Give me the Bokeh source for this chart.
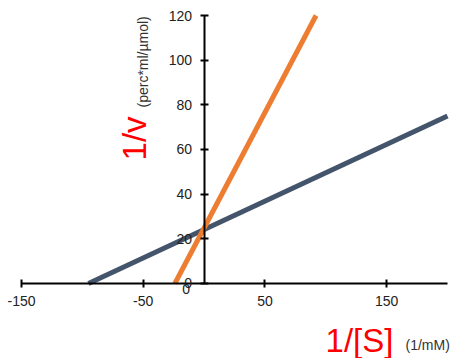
import math
from bokeh.plotting import figure
from bokeh.models import LinearAxis, FixedTicker, Range1d, Label, PrintfTickFormatter, AllLabels
from bokeh.embed import file_html
from bokeh.resources import INLINE

# data
x_ticks = [-150, -50, 50, 150]
y_ticks = [0, 20, 40, 60, 80, 100, 120]
blue_x = [-95, 200]
blue_y = [0, 75]
orange_x = [-24, 92]
orange_y = [0, 120]

p = figure(width=453, height=358, output_backend="svg", toolbar_location=None,
           x_axis_location=None, y_axis_location=None,
           x_range=Range1d(-167.25, 204.93), y_range=Range1d(-33.6, 126.72),
           min_border_left=0, min_border_right=0, min_border_top=0, min_border_bottom=0)
p.outline_line_color = None
p.xgrid.visible = False
p.ygrid.visible = False

font = "Liberation Sans"

xa = LinearAxis(fixed_location=0, ticker=FixedTicker(ticks=x_ticks), bounds=(-150, 200))
ya = LinearAxis(fixed_location=0, ticker=FixedTicker(ticks=y_ticks), bounds=(0, 120))
for ax in (xa, ya):
    ax.axis_line_width = 2
    ax.axis_line_color = "black"
    ax.major_tick_line_width = 2
    ax.major_tick_line_color = "black"
    ax.major_tick_in = 4
    ax.major_tick_out = 4
    ax.minor_tick_line_color = None
    ax.major_label_text_font = font
    ax.major_label_text_font_size = "14px"
    ax.major_label_text_color = "#222222"
    ax.major_label_policy = AllLabels()
    ax.formatter = PrintfTickFormatter(format="%d")
xa.major_label_standoff = 9
ya.major_label_standoff = 8
p.add_layout(xa, "below")
p.add_layout(ya, "left")

p.line(blue_x, blue_y, line_color="#44546A", line_width=5)
p.line(orange_x, orange_y, line_color="#ED7D31", line_width=5)

# the y tick label at the origin, which the crossing axis does not show
p.add_layout(Label(x=0, y=y_ticks[0], text=str(y_ticks[0]), x_offset=-14, y_offset=-6,
                   text_font=font, text_font_size="14px", text_color="#222222",
                   text_align="right", text_baseline="alphabetic", level="overlay"))

p.add_layout(Label(x=99.8, y=-25.5, text="1/[S]", text_font=font, text_font_size="33px",
                   text_color="#FF0000", text_align="left", text_baseline="alphabetic"))
p.add_layout(Label(x=165.5, y=-27.7, text="(1/mM)", text_font=font, text_font_size="14px",
                   text_color="#333333", text_align="left", text_baseline="alphabetic"))
p.add_layout(Label(x=-57.2, y=55.1, text="1/v", text_font=font, text_font_size="33px",
                   text_color="#FF0000", text_align="left", text_baseline="alphabetic",
                   angle=math.pi / 2))
p.add_layout(Label(x=-49.8, y=78.8, text="(perc*ml/µmol)", text_font=font, text_font_size="14px",
                   text_color="#333333", text_align="left", text_baseline="alphabetic",
                   angle=math.pi / 2))

open("out.html", "w").write(file_html(p, INLINE))
